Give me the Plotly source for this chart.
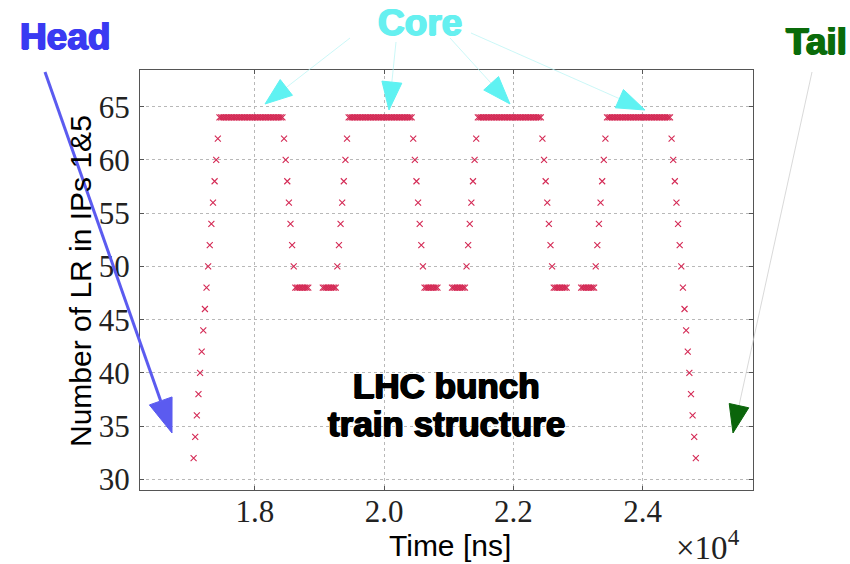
import math
import plotly.graph_objects as go

# ---------------- data ----------------
BUNCH_SPACING_NS = 25
train_start_ns = [17050, 19050, 21050, 23050]

lr_train_1 = [32, 34, 36, 38, 40, 42, 44, 46, 48, 50, 52, 54, 56, 58, 60, 62,
              64, 64, 64, 64, 64, 64, 64, 64, 64, 64, 64, 64, 64, 64, 64, 64, 64, 64, 64, 64,
              64, 64, 64, 64, 64, 64, 64, 64, 64, 64, 64, 64, 64, 64, 64, 64, 64, 64, 64, 64,
              62, 60, 58, 56, 54, 52, 50,
              48, 48, 48, 48, 48, 48, 48, 48, 48]
lr_train_2 = [48, 48, 48, 48, 48, 48, 48, 48, 48,
              50, 52, 54, 56, 58, 60, 62,
              64, 64, 64, 64, 64, 64, 64, 64, 64, 64, 64, 64, 64, 64, 64, 64, 64, 64, 64, 64,
              64, 64, 64, 64, 64, 64, 64, 64, 64, 64, 64, 64, 64, 64, 64, 64, 64, 64, 64, 64,
              62, 60, 58, 56, 54, 52, 50,
              48, 48, 48, 48, 48, 48, 48, 48, 48]
lr_train_3 = [48, 48, 48, 48, 48, 48, 48, 48, 48,
              50, 52, 54, 56, 58, 60, 62,
              64, 64, 64, 64, 64, 64, 64, 64, 64, 64, 64, 64, 64, 64, 64, 64, 64, 64, 64, 64,
              64, 64, 64, 64, 64, 64, 64, 64, 64, 64, 64, 64, 64, 64, 64, 64, 64, 64, 64, 64,
              62, 60, 58, 56, 54, 52, 50,
              48, 48, 48, 48, 48, 48, 48, 48, 48]
lr_train_4 = [48, 48, 48, 48, 48, 48, 48, 48, 48,
              50, 52, 54, 56, 58, 60, 62,
              64, 64, 64, 64, 64, 64, 64, 64, 64, 64, 64, 64, 64, 64, 64, 64, 64, 64, 64, 64,
              64, 64, 64, 64, 64, 64, 64, 64, 64, 64, 64, 64, 64, 64, 64, 64, 64, 64, 64, 64,
              62, 60, 58, 56, 54, 52, 50, 48, 46, 44, 42, 40, 38, 36, 34, 32]

x_tickvals = [18000, 20000, 22000, 24000]
x_ticktext = ["1.8", "2.0", "2.2", "2.4"]
y_tickvals = [30, 35, 40, 45, 50, 55, 60, 65]

trains = [lr_train_1, lr_train_2, lr_train_3, lr_train_4]
time_ns, lr_count = [], []
for start, lr in zip(train_start_ns, trains):
    for i, v in enumerate(lr):
        time_ns.append(start + i * BUNCH_SPACING_NS)
        lr_count.append(v)

# ---------------- layout helpers ----------------
W, H = 850, 564
PL, PR, PT, PB = 140, 753, 70, 490


def xp(px):
    return (px - PL) / (PR - PL)


def yp(py):
    return (PB - py) / (PB - PT)


shapes = []


def arrow(sx, sy, tx, ty, hl, hw, lw, lcolor, hcolor):
    dx, dy = tx - sx, ty - sy
    n = math.hypot(dx, dy)
    ux, uy = dx / n, dy / n
    bx, by = tx - hl * ux, ty - hl * uy
    nx, ny = -uy, ux
    c1 = (bx + hw * nx, by + hw * ny)
    c2 = (bx - hw * nx, by - hw * ny)
    shapes.append(dict(type="line", xref="paper", yref="paper",
                       x0=xp(sx), y0=yp(sy), x1=xp(bx), y1=yp(by),
                       line=dict(color=lcolor, width=lw)))
    path = "M {:.5f},{:.5f} L {:.5f},{:.5f} L {:.5f},{:.5f} Z".format(
        xp(tx), yp(ty), xp(c1[0]), yp(c1[1]), xp(c2[0]), yp(c2[1]))
    shapes.append(dict(type="path", xref="paper", yref="paper", path=path,
                       fillcolor=hcolor, line=dict(color=hcolor, width=1)))


BLUE = "#5b5bf0"
CYAN = "#5ff2f2"
GREEN = "#0b650b"

arrow(45, 72, 172, 433, 34, 12, 3, BLUE, BLUE)
arrow(350, 38, 265, 104, 27, 10, 0.7, "#b5f3f3", CYAN)
arrow(396, 42, 389, 110, 28, 10, 0.7, "#b5f3f3", CYAN)
arrow(450, 38, 510, 104, 28, 10, 0.7, "#b5f3f3", CYAN)
arrow(471, 33, 645, 110, 28, 10, 0.7, "#b5f3f3", CYAN)
arrow(812, 72, 733, 433, 28, 10, 0.7, "#c8c8c8", GREEN)

BOLD = "Liberation Sans, Arial, sans-serif"
SANS = "Liberation Sans, Arial, sans-serif"
SERIF = "Liberation Serif, Times New Roman, serif"


def heavy(color):
    return "0.9px 0 0 {c}, -0.9px 0 0 {c}, 0 0.5px 0 {c}".format(c=color)


annotations = [
    dict(text="<b>Head</b>", x=xp(65), y=yp(36),
         font=dict(family=BOLD, size=37, color="#3a3af2", shadow=heavy("#3a3af2"))),
    dict(text="<b>Core</b>", x=xp(420), y=yp(23),
         font=dict(family=BOLD, size=37, color="#66f0f0", shadow=heavy("#66f0f0"))),
    dict(text="<b>Tail</b>", x=xp(784), y=yp(41), xanchor="left",
         font=dict(family=BOLD, size=37, color="#0a6b0a", shadow=heavy("#0a6b0a"))),
    dict(text="<b>LHC bunch</b>", x=xp(447), y=yp(385),
         font=dict(family=BOLD, size=35, color="black", shadow=heavy("black"))),
    dict(text="<b>train structure</b>", x=xp(447), y=yp(423),
         font=dict(family=BOLD, size=35, color="black", shadow=heavy("black"))),
    dict(text="Time [ns]", x=xp(450), y=yp(545), font=dict(family=SANS, size=30, color="black")),
    dict(text="Number of LR in IPs 1&5", x=xp(80), y=yp(281), textangle=-90,
         font=dict(family=SANS, size=30, color="black")),
    dict(text="×10<sup>4</sup>", x=xp(708), y=yp(545), font=dict(family=SERIF, size=33, color="#222")),
]
for a in annotations:
    a.setdefault("xref", "paper")
    a.setdefault("yref", "paper")
    a.setdefault("showarrow", False)
    a.setdefault("xanchor", "center")
    a.setdefault("yanchor", "middle")

fig = go.Figure(go.Scatter(
    x=time_ns, y=lr_count, mode="markers",
    marker=dict(symbol="x-thin", size=6, color="#d42a55",
                line=dict(color="#d42a55", width=1.1)),
    hoverinfo="x+y"))

axis_common = dict(showline=True, linecolor="#555", linewidth=1, mirror="ticks",
                   ticks="inside", ticklen=4, tickcolor="#555",
                   showgrid=True, gridcolor="#b8b8b8", griddash="dot", gridwidth=1,
                   zeroline=False,
                   tickfont=dict(family=SERIF, size=31, color="#222"))

fig.update_layout(
    width=W, height=H,
    margin=dict(l=PL, r=W - PR, t=PT, b=H - PB, pad=0),
    paper_bgcolor="white", plot_bgcolor="white",
    showlegend=False,
    xaxis=dict(range=[16220, 25710], tickvals=x_tickvals, ticktext=x_ticktext,
               ticklabelstandoff=-6, **axis_common),
    yaxis=dict(range=[29, 68.45], tickvals=y_tickvals, ticklabelstandoff=3, **axis_common),
    shapes=shapes,
    annotations=annotations,
)

fig.write_html("out.html")
